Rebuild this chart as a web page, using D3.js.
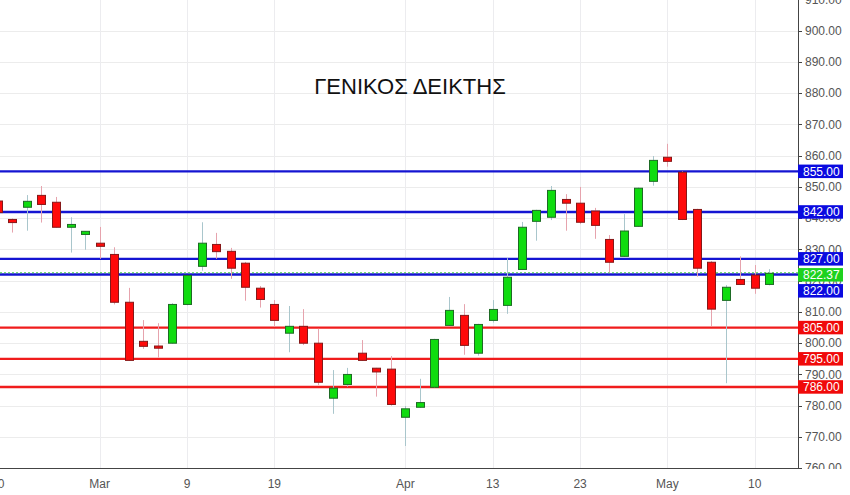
<!DOCTYPE html>
<html><head><meta charset="utf-8">
<script src="https://cdn.jsdelivr.net/npm/d3@7"></script>
<style>
html,body{margin:0;padding:0;background:#fff;}
svg{display:block;font-family:"Liberation Sans Narrow","Liberation Sans",Arial,sans-serif;}
</style></head>
<body><svg id="c" width="850" height="495"></svg>
<script>
// ---- data ----
const dates = ["2018-02-20","2018-02-21","2018-02-22","2018-02-23","2018-02-26","2018-02-27","2018-02-28",
"2018-03-01","2018-03-02","2018-03-05","2018-03-06","2018-03-07","2018-03-08","2018-03-09",
"2018-03-12","2018-03-13","2018-03-14","2018-03-15","2018-03-16","2018-03-19","2018-03-20",
"2018-03-21","2018-03-22","2018-03-23","2018-03-26","2018-03-27","2018-03-28","2018-03-29",
"2018-04-03","2018-04-04","2018-04-05","2018-04-10","2018-04-11","2018-04-12","2018-04-13",
"2018-04-16","2018-04-17","2018-04-18","2018-04-19","2018-04-20","2018-04-23","2018-04-24",
"2018-04-25","2018-04-26","2018-04-27","2018-04-30","2018-05-02","2018-05-03","2018-05-04",
"2018-05-07","2018-05-08","2018-05-09","2018-05-10","2018-05-11"];
const open  = [845.5,839.6,843.5,847.3,845.1,837.1,834.8,832.0,828.4,813.1,800.6,799.1,800.0,812.4,824.6,831.6,829.4,825.6,817.6,812.4,803.2,805.4,800.0,782.4,786.8,796.8,792.0,791.7,776.3,779.5,785.9,805.7,808.9,796.8,807.3,812.1,823.6,839.0,840.3,846.0,844.8,842.3,833.2,827.8,837.4,851.8,859.5,854.7,842.8,825.9,813.7,820.4,821.8,818.8];
const high  = [846.5,839.9,847.4,850.3,846.8,840.3,835.8,837.2,830.7,817.7,807.4,806.4,812.8,821.7,838.7,835.3,830.5,826.0,818.3,813.8,811.9,810.9,804.6,791.4,792.1,801.0,792.1,795.9,779.9,788.6,801.4,814.8,812.5,806.2,813.8,827.2,838.8,842.7,850.3,847.7,850.0,843.3,834.6,841.3,849.8,859.9,863.8,855.0,843.0,826.3,818.6,827.8,825.0,823.7];
const low   = [841.0,835.4,836.0,838.6,837.0,829.0,829.9,827.0,812.4,794.3,798.2,795.4,799.8,812.1,823.2,827.0,820.6,813.6,811.4,805.3,797.1,799.4,786.6,777.4,786.1,794.3,782.9,780.0,767.1,779.3,785.7,805.5,796.3,796.0,806.6,809.4,823.4,832.8,839.4,836.0,838.1,833.4,822.6,827.6,837.2,850.4,856.5,839.4,821.3,805.5,787.2,818.6,815.8,818.5];
const close = [841.8,838.6,845.4,844.4,837.1,838.0,835.8,831.0,813.1,794.5,799.0,798.4,812.4,821.7,832.0,829.3,824.0,817.9,814.0,807.3,805.4,800.0,787.5,785.6,790.0,794.5,790.8,780.4,779.0,781.0,801.2,810.5,799.3,806.0,810.8,821.1,837.1,842.5,848.9,844.8,838.7,837.7,825.9,835.9,849.6,858.5,858.2,839.6,824.0,810.9,817.9,818.8,817.6,822.37];
const resistance = [855, 842, 827, 822];
const support = [805, 795, 786];
const lastPrice = 822.37;
const tickDates  = ["2018-02-20","2018-03-01","2018-03-09","2018-03-19","2018-04-03","2018-04-13","2018-04-23","2018-05-02","2018-05-10"];
const tickLabels = ["20","Mar","9","19","Apr","13","23","May","10"];
const yTicks = d3.range(760, 911, 10);
const title = "ΓΕΝΙΚΟΣ ΔΕΙΚΤΗΣ";

// ---- layout ----
const W = 850, H = 495, plotR = 798, plotB = 468;
const svg = d3.select("#c");
const x = d3.scaleLinear().domain([0.155, 54.97]).range([0, plotR]);
const y = d3.scaleLinear().domain([760, 910]).range([468.2, -0.55]);
const candles = dates.map((d,i)=>({d, i, o:open[i], h:high[i], l:low[i], c:close[i]}));

svg.append("defs").append("clipPath").attr("id","pc")
  .append("rect").attr("x",0).attr("y",0).attr("width",plotR).attr("height",plotB);
svg.select("defs").append("clipPath").attr("id","ac")
  .append("rect").attr("x",plotR).attr("y",0).attr("width",W-plotR).attr("height",plotB+1);

const plot = svg.append("g").attr("clip-path","url(#pc)");

// grid
plot.selectAll("line.hg").data(yTicks).join("line").attr("class","hg")
  .attr("x1",0).attr("x2",plotR).attr("y1",d=>Math.round(y(d))+0.5).attr("y2",d=>Math.round(y(d))+0.5)
  .attr("stroke","#ececec").attr("stroke-width",1);
const tickIdx = tickDates.map(t=>dates.indexOf(t));
plot.selectAll("line.vg").data(tickIdx).join("line").attr("class","vg")
  .attr("x1",d=>Math.round(x(d))+0.5).attr("x2",d=>Math.round(x(d))+0.5).attr("y1",0).attr("y2",plotB)
  .attr("stroke","#ececef").attr("stroke-width",1);

// title
svg.append("text").attr("x",410).attr("y",94).attr("text-anchor","middle")
  .attr("font-family","'Liberation Sans',Arial,sans-serif").attr("font-size",22).attr("fill","#111").text(title);

// level lines
plot.selectAll("line.res").data(resistance).join("line").attr("class","res")
  .attr("x1",0).attr("x2",plotR).attr("y1",d=>y(d)).attr("y2",d=>y(d))
  .attr("stroke","#1414d2").attr("stroke-width",2.4);
plot.selectAll("line.sup").data(support).join("line").attr("class","sup")
  .attr("x1",0).attr("x2",plotR).attr("y1",d=>y(d)).attr("y2",d=>y(d))
  .attr("stroke","#f01c1c").attr("stroke-width",2.4);
plot.append("line").attr("x1",0).attr("x2",plotR).attr("y1",y(lastPrice)-0.5).attr("y2",y(lastPrice)-0.5)
  .attr("stroke","#44cc44").attr("stroke-width",1).attr("stroke-dasharray","2,2");

// candles
const bw = 8;
const g = plot.selectAll("g.cd").data(candles).join("g").attr("class","cd");
g.append("line")
  .attr("x1",d=>Math.round(x(d.i))+0.5).attr("x2",d=>Math.round(x(d.i))+0.5)
  .attr("y1",d=>y(d.h)).attr("y2",d=>y(d.l))
  .attr("stroke",d=>d.c>=d.o?"#a9c6cc":"#e6a3ad").attr("stroke-width",1);
g.append("rect")
  .attr("x",d=>Math.round(x(d.i))-bw/2+0.5)
  .attr("y",d=>y(Math.max(d.o,d.c)))
  .attr("width",bw)
  .attr("height",d=>Math.max(1.5,Math.abs(y(d.o)-y(d.c))))
  .attr("fill",d=>d.c>=d.o?"#0fdc0f":"#ff0a0a")
  .attr("stroke",d=>d.c>=d.o?"#1d6b24":"#861818").attr("stroke-width",1);

// axes lines
svg.append("line").attr("x1",plotR+0.5).attr("x2",plotR+0.5).attr("y1",0).attr("y2",plotB+1).attr("stroke","#444");
svg.append("line").attr("x1",0).attr("x2",plotR+1).attr("y1",plotB+0.5).attr("y2",plotB+0.5).attr("stroke","#444");

// y axis
const ya = svg.append("g").attr("clip-path","url(#ac)");
ya.selectAll("line.yt").data(yTicks).join("line").attr("class","yt")
  .attr("x1",plotR).attr("x2",plotR+4).attr("y1",d=>Math.round(y(d))+0.5).attr("y2",d=>Math.round(y(d))+0.5)
  .attr("stroke","#444");
ya.selectAll("text.yl").data(yTicks).join("text").attr("class","yl")
  .attr("x",plotR+7).attr("y",d=>y(d)).attr("dy","0.35em")
  .attr("font-size",12).attr("fill","#555").text(d=>d3.format(".2f")(d));

// price labels
const labels = [
  ...resistance.map(v=>({v, col:"#0a0ae0", t:d3.format(".2f")(v)})),
  {v:lastPrice, col:"#1ed21e", t:d3.format(".2f")(lastPrice)},
  ...support.map(v=>({v, col:"#f00a0a", t:d3.format(".2f")(v)}))
].sort((a,b)=>b.v-a.v);
const lh = 13.5, gap = 2.5;
let prevBottom = -Infinity;
labels.forEach(l=>{ let top = y(l.v)-lh/2; if (top < prevBottom+gap) top = prevBottom+gap; l.top = top; prevBottom = top+lh; });
const pl = svg.selectAll("g.pl").data(labels).join("g").attr("class","pl");
pl.append("rect").attr("x",plotR).attr("y",d=>d.top).attr("width",45).attr("height",lh).attr("fill",d=>d.col);
pl.append("text").attr("x",plotR+5).attr("y",d=>d.top+lh/2).attr("dy","0.36em")
  .attr("font-size",12).attr("fill","#fff").text(d=>d.t);

// x axis labels
svg.selectAll("text.xl").data(tickIdx).join("text").attr("class","xl")
  .attr("x",d=>x(d)).attr("y",488).attr("text-anchor","middle")
  .attr("font-size",12).attr("fill","#555").text((d,i)=>tickLabels[i]);
</script></body></html>
